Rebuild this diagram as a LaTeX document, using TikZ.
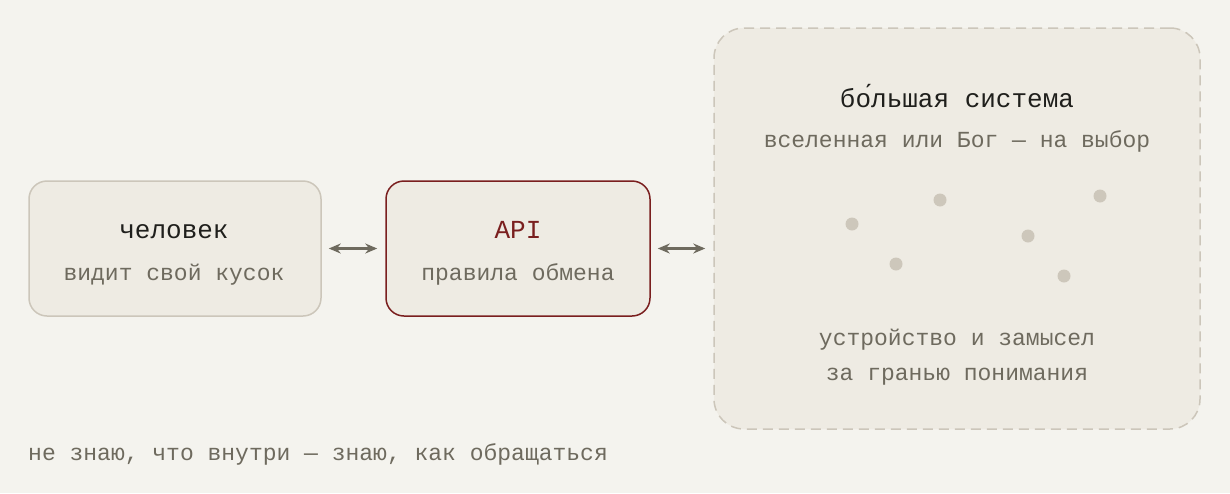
\documentclass[tikz,border=0pt]{standalone}
\usepackage{fontspec}
\setmainfont{Liberation Mono}
\usetikzlibrary{arrows.meta}
\definecolor{paper}{HTML}{F4F3EE}
\definecolor{boxfill}{HTML}{EEEBE3}
\definecolor{boxline}{HTML}{CCC6BA}
\definecolor{apired}{HTML}{7A1F1F}
\definecolor{ink}{HTML}{1F1F1C}
\definecolor{muted}{HTML}{6E6A5E}
\definecolor{speck}{HTML}{CDC7BB}
\tikzstyle{box} = [rectangle, rounded corners=18pt, draw=boxline, line width=1.5pt, fill=boxfill]
\tikzstyle{apibox} = [box, draw=apired]
\tikzstyle{cloud} = [rectangle, rounded corners=30pt, draw=boxline, line width=1.5pt, dash pattern=on 10pt off 6pt, fill=boxfill]
\tikzstyle{title} = [anchor=base, text=ink, font=\fontsize{26}{30}\selectfont, inner sep=0pt]
\tikzstyle{sub} = [anchor=base, text=muted, font=\fontsize{23}{28}\selectfont, inner sep=0pt]
\tikzstyle{arrow} = [line width=2.5pt, draw=muted, {Stealth[length=12pt,width=10pt]}-{Stealth[length=12pt,width=10pt]}, shorten <=7pt, shorten >=8pt]

\begin{document}
\begin{tikzpicture}[x=1pt,y=-1pt]
\fill [paper] (0,0) rectangle (1230,493);
\useasboundingbox (0,0) rectangle (1230,493);

\node (human) [box, minimum width=292pt, minimum height=135pt] at (175,248.5) {};
\node (api) [apibox, minimum width=264pt, minimum height=135pt] at (518,248.5) {};
\node (system) [cloud, minimum width=486pt, minimum height=401pt] at (957,228.5) {};
\coordinate (sysin) at (api.east -| system.west);

\node (humant) [title] at (174,238) {человек};
\node (humans) [sub] at (174,280) {видит свой кусок};
\node (apit) [title, text=apired] at (518,238) {API};
\node (apis) [sub] at (518,280) {правила обмена};
\node (syst) [title] at (957,107) {бо́льшая система};
\node (syss) [sub] at (957,147) {вселенная или Бог — на выбор};
\node (sysa) [sub] at (957,345) {устройство и замысел};
\node (sysb) [sub] at (957,380) {за гранью понимания};
\node (note) [sub, anchor=base west] at (28,460) {не знаю, что внутри — знаю, как обращаться};

% specks
\foreach \x/\y in {852/224, 940/200, 896/264, 1028/236, 1100/196, 1064/276}
  \fill [speck] (\x,\y) circle (6.5pt);

\draw [arrow] (human.east) -- (api.west);
\draw [arrow] (api.east) -- (sysin);
\end{tikzpicture}
\end{document}
